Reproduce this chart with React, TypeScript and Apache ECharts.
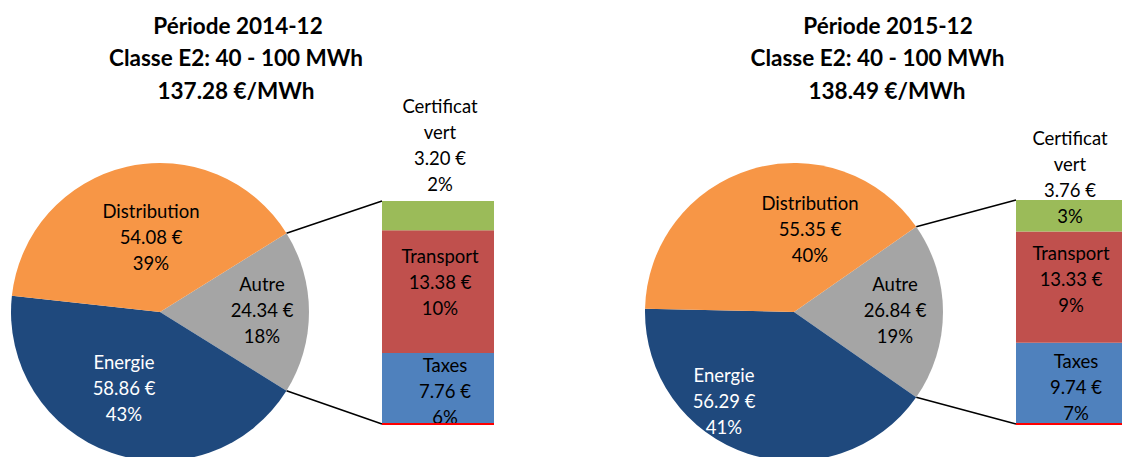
import React, { useEffect, useRef } from "react";
import * as echarts from "echarts";

// ---- Data ----
const pieCategories = ["Autre", "Energie", "Distribution"];
const pie1Values = [24.34, 58.86, 54.08];
const pie1Pct = [18, 43, 39];
const pie2Values = [26.84, 56.29, 55.35];
const pie2Pct = [19, 41, 40];

const barCategories = ["Taxes", "Transport", "Certificat\nvert"];
const bar1Values = [7.76, 13.38, 3.2];
const bar1Pct = [6, 10, 2];
const bar2Values = [9.74, 13.33, 3.76];
const bar2Pct = [7, 9, 3];

const titles1 = ["Période 2014-12", "Classe E2: 40 - 100 MWh", "137.28 €/MWh"];
const titles2 = ["Période 2015-12", "Classe E2: 40 - 100 MWh", "138.49 €/MWh"];

// ---- Styles / layout ----
const FONT = "Lato";
const LABEL_SIZE = 18.5;
const pieColors = ["#A5A5A5", "#1F497D", "#F79646"];
const pieLabelColors = ["#000000", "#FFFFFF", "#000000"];
const barColors = ["#4F81BD", "#C0504D", "#9BBB59"];

const RADIUS = 149;
const charts = [
  {
    center: [160, 312],
    values: pie1Values,
    pct: pie1Pct,
    barValues: bar1Values,
    barPct: bar1Pct,
    titles: titles1,
    titleX: [238, 236, 236],
    grid: { left: 382, top: 201, width: 112, height: 223 },
    pieLabelOffset: [[102, -2], [-36, 76], [-9, -75]],
    barLabelOffset: [[7, 3], [2, -10], [2, -71]],
  },
  {
    center: [794, 312],
    values: pie2Values,
    pct: pie2Pct,
    barValues: bar2Values,
    barPct: bar2Pct,
    titles: titles2,
    titleX: [888, 877.5, 887],
    grid: { left: 1016, top: 200, width: 112, height: 224 },
    pieLabelOffset: [[101, -2], [-70, 89], [16, -83]],
    barLabelOffset: [[7, 4], [2, -8.5], [1, -39]],
  },
];
const titleY = [25, 57.5, 90];

const sum = (a: number[]) => a.reduce((s, v) => s + v, 0);

export default function App() {
  const ref = useRef<HTMLDivElement>(null);

  useEffect(() => {
    if (!ref.current) return;
    const chart = echarts.init(ref.current, null, { renderer: "svg" });

    const series: any[] = [];
    const graphic: any[] = [];
    const grids: any[] = [];
    const xAxes: any[] = [];
    const yAxes: any[] = [];

    charts.forEach((c, ci) => {
      const total = sum(c.values);
      const startAngle = ((360 * c.values[0]) / total) / 2;

      series.push({
        type: "pie",
        center: c.center,
        radius: RADIUS,
        startAngle,
        clockwise: true,
        silent: true,
        emphasis: { disabled: true },
        itemStyle: { borderWidth: 0 },
        data: pieCategories.map((name, i) => ({
          name,
          value: c.values[i],
          itemStyle: { color: pieColors[i] },
          label: { color: pieLabelColors[i] },
        })),
        label: {
          show: true,
          position: "inside",
          fontFamily: FONT,
          fontSize: LABEL_SIZE,
          lineHeight: 26,
          align: "center",
          formatter: (p: any) =>
            `${p.name}\n${Number(p.value).toFixed(2)} €\n${c.pct[p.dataIndex]}%`,
        },
        labelLine: { show: false },
        labelLayout: (p: any) => ({
          x: c.center[0] + c.pieLabelOffset[p.dataIndex][0],
          y: c.center[1] + c.pieLabelOffset[p.dataIndex][1],
        }),
      });

      grids.push({ ...c.grid, containLabel: false });
      xAxes.push({ type: "category", data: ["Autre"], gridIndex: ci, show: false });
      yAxes.push({ type: "value", min: 0, max: sum(c.barValues), gridIndex: ci, show: false });

      barCategories.forEach((name, i) => {
        series.push({
          type: "bar",
          name,
          xAxisIndex: ci,
          yAxisIndex: ci,
          stack: "s" + ci,
          barWidth: "100%",
          silent: true,
          data: [c.barValues[i]],
          itemStyle: { color: barColors[i] },
          label: {
            show: true,
            position: "inside",
            color: "#000000",
            fontFamily: FONT,
            fontSize: LABEL_SIZE,
            lineHeight: 26,
            align: "center",
            formatter: (p: any) =>
              `${name}\n${Number(p.value).toFixed(2)} €\n${c.barPct[i]}%`,
          },
          labelLayout: { dx: c.barLabelOffset[i][0], dy: c.barLabelOffset[i][1] },
          markLine:
            i === 0
              ? {
                  silent: true,
                  symbol: "none",
                  label: { show: false },
                  lineStyle: { color: "#FF0000", width: 2, type: "solid" },
                  data: [{ yAxis: 0 }],
                }
              : undefined,
        });
      });

      // connector lines from pie slice edge to bar corners
      const a = (startAngle * Math.PI) / 180;
      const px = c.center[0] + RADIUS * Math.cos(a);
      const dy = RADIUS * Math.sin(a);
      graphic.push({
        type: "line",
        silent: true,
        shape: { x1: px, y1: c.center[1] - dy, x2: c.grid.left, y2: c.grid.top },
        style: { stroke: "#000", lineWidth: 1.5 },
      });
      graphic.push({
        type: "line",
        silent: true,
        shape: {
          x1: px,
          y1: c.center[1] + dy,
          x2: c.grid.left,
          y2: c.grid.top + c.grid.height,
        },
        style: { stroke: "#000", lineWidth: 1.5 },
      });

      c.titles.forEach((t, ti) => {
        graphic.push({
          type: "text",
          x: c.titleX[ti],
          y: titleY[ti],
          silent: true,
          style: {
            text: t,
            fill: "#000",
            font: `bold 22.5px ${FONT}`,
            align: "center",
            verticalAlign: "middle",
          },
        });
      });
    });

    chart.setOption({
      animation: false,
      backgroundColor: "#FFFFFF",
      grid: grids,
      xAxis: xAxes,
      yAxis: yAxes,
      series,
      graphic,
    });

    return () => chart.dispose();
  }, []);

  return (
    <div
      ref={ref}
      style={{ position: "absolute", left: 0, top: 0, width: 1122, height: 457 }}
    />
  );
}
